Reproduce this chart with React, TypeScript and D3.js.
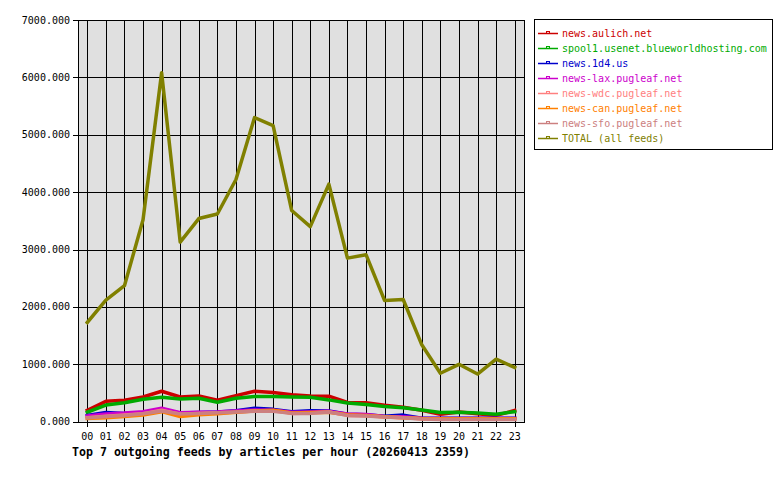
import React from "react";
import * as d3 from "d3";

const hours = ["00","01","02","03","04","05","06","07","08","09","10","11","12","13","14","15","16","17","18","19","20","21","22","23"];
const yTicks = [0, 1000, 2000, 3000, 4000, 5000, 6000, 7000];

const feedNames = [
  "news.aulich.net",
  "spool1.usenet.blueworldhosting.com",
  "news.1d4.us",
  "news-lax.pugleaf.net",
  "news-wdc.pugleaf.net",
  "news-can.pugleaf.net",
  "news-sfo.pugleaf.net",
  "TOTAL (all feeds)",
];
const feedColors = ["#cc0000", "#00aa00", "#0000cc", "#cc00cc", "#ff8080", "#ff8000", "#cc8080", "#808000"];

const aulich = [200, 355, 375, 430, 530, 430, 450, 375, 455, 530, 510, 470, 450, 445, 335, 330, 285, 250, 200, 130, 170, 140, 110, 195];
const spool1 = [165, 290, 330, 390, 425, 395, 410, 340, 410, 440, 440, 430, 425, 380, 325, 300, 265, 245, 205, 160, 165, 150, 130, 175];
const d4 = [110, 160, 145, 160, 200, 150, 160, 170, 190, 235, 215, 175, 190, 185, 130, 120, 95, 115, 60, 60, 60, 60, 60, 60];
const lax = [100, 135, 150, 175, 235, 155, 165, 170, 185, 205, 200, 165, 170, 180, 135, 125, 90, 85, 60, 55, 55, 55, 55, 55];
const wdc = [70, 95, 115, 140, 200, 130, 145, 155, 165, 190, 190, 145, 150, 170, 110, 105, 80, 70, 50, 45, 45, 45, 45, 45];
const can = [55, 70, 90, 115, 175, 90, 120, 140, 165, 185, 200, 150, 160, 165, 120, 110, 85, 70, 55, 50, 50, 50, 50, 50];
const sfo = [65, 90, 110, 140, 185, 135, 145, 155, 170, 180, 180, 145, 145, 170, 110, 100, 80, 70, 45, 40, 40, 40, 40, 40];
const total = [1730, 2120, 2370, 3520, 6080, 3130, 3540, 3620, 4220, 5300, 5160, 3680, 3400, 4140, 2850, 2910, 2110, 2130, 1340, 845, 1000, 830, 1090, 945];

const series = [aulich, spool1, d4, lax, wdc, can, sfo, total];

const W = 780, H = 480;
const left = 78, right = 524, top = 20, bottom = 421.7;
const mono = "'DejaVu Sans Mono', monospace";

export default function App() {
  const x = d3.scaleLinear().domain([-0.5, 23.5]).range([left, right]);
  const y = d3.scaleLinear().domain([0, 7000]).range([bottom, top]);
  const line = d3.line<number>().x((_, i) => x(i)).y((d) => y(d));

  return (
    <svg width={W} height={H} style={{ position: "absolute", left: 0, top: 0, background: "#fff" }}>
      <rect x={left} y={top} width={right - left} height={bottom - top} fill="#e0e0e0" />
      {hours.map((h, i) => (
        <g key={h}>
          <line x1={Math.round(x(i)) + 0.5} x2={Math.round(x(i)) + 0.5} y1={top} y2={bottom + 5} stroke="#000" strokeWidth={1} shapeRendering="crispEdges" />
          <text x={x(i)} y={440} fontFamily={mono} fontSize={10} textAnchor="middle" fill="#000">{h}</text>
        </g>
      ))}
      {yTicks.map((t) => (
        <g key={t}>
          <line x1={left - 5} x2={right} y1={Math.round(y(t)) + 0.5} y2={Math.round(y(t)) + 0.5} stroke="#000" strokeWidth={1} shapeRendering="crispEdges" />
          <text x={70} y={y(t) + 3.5} fontFamily={mono} fontSize={10} textAnchor="end" fill="#000">{t.toFixed(3)}</text>
        </g>
      ))}
      <rect x={left + 0.5} y={top + 0.5} width={right - left} height={bottom - top} fill="none" stroke="#000" strokeWidth={1} shapeRendering="crispEdges" />
      {series.map((s, k) => (
        <path key={k} d={line(s) || ""} fill="none" stroke={feedColors[k]} strokeWidth={k === 7 ? 3.5 : 3.5} strokeLinejoin="round" strokeLinecap="square" />
      ))}
      <text x={72} y={456} fontFamily={mono} fontSize={11.6} fontWeight="bold" fill="#000">Top 7 outgoing feeds by articles per hour (20260413 2359)</text>
      <rect x={534.5} y={19.5} width={238} height={130} fill="#fff" stroke="#000" strokeWidth={1} shapeRendering="crispEdges" />
      {feedNames.map((n, k) => {
        const ly = 33 + k * 15;
        return (
          <g key={n}>
            <line x1={538} x2={558} y1={ly + 0.5} y2={ly + 0.5} stroke={feedColors[k]} strokeWidth={1.5} />
            <rect x={546.5} y={ly - 1.5} width={3} height={2} fill="none" stroke={feedColors[k]} strokeWidth={1} />
            <text x={562} y={ly + 4} fontFamily={mono} fontSize={10} fill={feedColors[k]}>{n}</text>
          </g>
        );
      })}
    </svg>
  );
}
